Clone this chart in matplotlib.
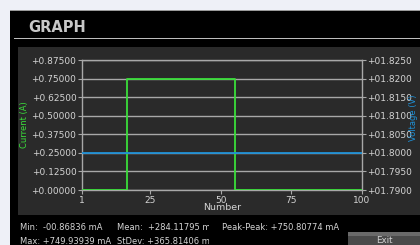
import matplotlib.pyplot as plt
from matplotlib.patches import Rectangle

# readings: step points of the current trace and the flat voltage trace
numbers = [1, 17, 55, 100]
current = [0.0, 0.7499, -0.0009, -0.0009]
volt_numbers = [1, 100]
voltage = [1.8, 1.8]

left_ticks = [0.0, 0.125, 0.25, 0.375, 0.5, 0.625, 0.75, 0.875]
left_labels = ["+0.00000", "+0.12500", "+0.25000", "+0.37500", "+0.50000",
               "+0.62500", "+0.75000", "+0.87500"]
right_ticks = [1.790, 1.795, 1.800, 1.805, 1.810, 1.815, 1.820, 1.825]
right_labels = ["+01.7900", "+01.7950", "+01.8000", "+01.8050", "+01.8100",
                "+01.8150", "+01.8200", "+01.8250"]
x_ticks = [1, 25, 50, 75, 100]

stats_row1 = ["Min:  -00.86836 mA", "Mean:  +284.11795 mA", "Peak-Peak: +750.80774 mA"]
stats_row2 = ["Max: +749.93939 mA", "StDev: +365.81406 mA"]

W, H = 420, 245
TXT = "#d4d4d4"
GREEN = "#3ade3a"
BLUE = "#1e90d6"

fig = plt.figure(figsize=(W / 100, H / 100), dpi=100)
fig.patch.set_facecolor("#eef0f7")


def px(x, y, w, h):
    # pixel box (top-left origin) -> figure fraction
    return (x / W, 1 - (y + h) / H, w / W, h / H)


def rect(x, y, w, h, color, z=-5):
    l, b, ww, hh = px(x, y, w, h)
    fig.patches.append(Rectangle((l, b), ww, hh, transform=fig.transFigure,
                                 facecolor=color, edgecolor="none", zorder=z))


rect(10, 10, 410, 235, "#000000")
rect(10, 10, 410, 1.2, "#9a9a9a")
rect(14, 38, 406, 1.3, "#bdbdbd")
rect(18, 47, 402, 168, "#2a2a2a")
fig.text(28 / W, 1 - 28 / H, "GRAPH", color="#c8c8c8", fontsize=10.5,
         fontweight="bold", va="center", ha="left")

l, b, ww, hh = px(82, 60, 280, 130)
ax = fig.add_axes([l, b, ww, hh])
ax.set_facecolor("none")
ax.plot(numbers, current, drawstyle="steps-post", color=GREEN, lw=1.3, zorder=3)
ax.set_xlim(1, 100)
ax.set_ylim(0, 0.875)
ax.set_xticks(x_ticks)
ax.set_yticks(left_ticks)
ax.set_yticklabels(left_labels)
ax.grid(axis="y", color="#a8a8a8", lw=1.0)
ax.set_axisbelow(True)
for s in ax.spines.values():
    s.set_color("#a8a8a8")
    s.set_linewidth(1.0)
ax.tick_params(colors="#a8a8a8", labelcolor=TXT, labelsize=6.5, length=3, width=0.8, pad=1)
ax.set_xlabel("Number", color=TXT, fontsize=6.8, labelpad=-1)
ax.set_ylabel("Current (A)", color=GREEN, fontsize=6.0, labelpad=2)

ax2 = ax.twinx()
ax2.plot(volt_numbers, voltage, color=BLUE, lw=1.3, zorder=2)
ax2.set_ylim(1.79, 1.825)
ax2.set_yticks(right_ticks)
ax2.set_yticklabels(right_labels)
for s in ax2.spines.values():
    s.set_visible(False)
ax2.tick_params(colors="#a8a8a8", labelcolor=TXT, labelsize=6.5, length=3, width=0.8, pad=1)
# right axis title squeezed against the screen edge
fig.text(414 / W, 1 - 118 / H, "Voltage (V)", color=BLUE, fontsize=6.0,
         rotation=90, ha="center", va="center")

# stats text, cut off at column edges like the instrument screen:
# each column is masked on its right side before the next one is drawn
cols = [(20, 115), (117, 209), (222, 343)]
for row, ypix in ((stats_row1, 228), (stats_row2, 241)):
    for i, ((x0, x1), s) in enumerate(zip(cols, row)):
        z = 10 + 2 * i
        fig.text(x0 / W, 1 - ypix / H, s, color=TXT, fontsize=6.0,
                 va="center", ha="left", zorder=z)
        rect(x1, ypix - 6, 40, 12, "#000000", z=z + 1)

# Exit button
rect(348, 232, 72, 13, "#4a4a4a", z=20)
rect(348, 232, 72, 4, "#6a6a6a", z=20)
fig.text(384 / W, 1 - 240 / H, "Exit", color=TXT, fontsize=6.3, ha="center",
         va="center", zorder=21)

fig.savefig("out.png", dpi=100, facecolor=fig.get_facecolor())
